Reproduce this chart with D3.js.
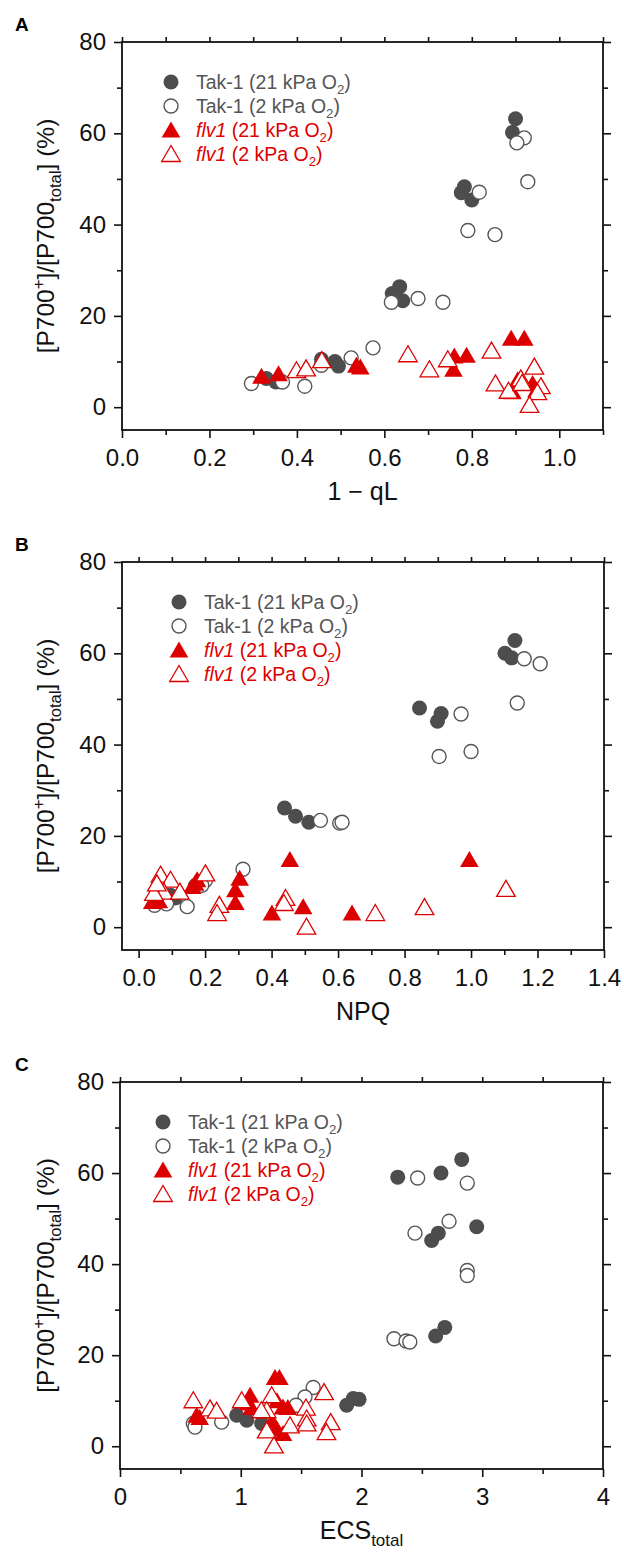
<!DOCTYPE html>
<html><head><meta charset="utf-8">
<script src="https://cdn.jsdelivr.net/npm/d3@7/dist/d3.min.js"></script>
<style>body{margin:0;background:#fff;} svg{display:block;font-family:Arial,"Liberation Sans",sans-serif;}</style>
</head><body><svg id="c" width="624" height="1554"></svg>
<script>
// ---------- DATA ----------
// Panel A: x = 1 - qL, y = [P700+]/[P700total] (%)
const tak21_A = [[0.900,63.2],[0.893,60.2],[0.783,48.3],[0.776,47.0],[0.800,45.4],[0.635,26.4],[0.618,24.9],[0.642,23.3],[0.456,10.5],[0.487,10.0],[0.495,9.0],[0.330,6.3],[0.352,5.5]];
const tak2_A  = [[0.920,59.0],[0.903,57.9],[0.928,49.4],[0.817,47.1],[0.791,38.7],[0.853,37.8],[0.616,23.0],[0.677,23.8],[0.734,23.0],[0.574,13.0],[0.524,10.8],[0.456,9.2],[0.296,5.2],[0.367,5.5],[0.418,4.6]];
const flv21_A = [[0.890,15.1],[0.920,15.1],[0.760,11.2],[0.788,11.4],[0.758,8.3],[0.536,9.2],[0.545,8.8],[0.319,6.8],[0.358,7.3],[0.893,3.4],[0.939,5.2],[0.905,6.0],[0.948,3.8]];
const flv2_A  = [[0.457,10.3],[0.399,8.1],[0.421,8.5],[0.654,11.6],[0.703,8.3],[0.745,10.5],[0.845,12.4],[0.854,5.2],[0.884,3.6],[0.912,6.3],[0.915,5.3],[0.943,8.9],[0.958,4.6],[0.950,3.3],[0.932,0.5]];
// Panel B: x = NPQ
const tak21_B = [[1.132,62.8],[1.102,60.0],[1.122,59.0],[0.845,48.0],[0.910,46.8],[0.899,45.1],[0.439,26.1],[0.472,24.3],[0.512,23.0],[0.075,5.8],[0.096,7.0],[0.110,6.4],[0.170,9.0],[0.185,9.8]];
const tak2_B  = [[1.160,58.8],[1.208,57.7],[1.139,49.1],[0.970,46.7],[0.904,37.4],[1.000,38.5],[0.547,23.4],[0.605,22.8],[0.612,23.0],[0.314,12.7],[0.201,10.2],[0.190,9.2],[0.048,4.8],[0.084,5.1],[0.146,4.5]];
const flv21_B = [[0.455,14.8],[0.995,14.8],[0.304,10.7],[0.291,8.2],[0.291,5.4],[0.401,3.1],[0.495,4.5],[0.642,3.1],[0.161,8.9],[0.176,10.4],[0.170,9.6],[0.041,5.6],[0.061,5.8]];
const flv2_B  = [[1.105,8.4],[0.860,4.4],[0.712,3.1],[0.505,0.1],[0.442,6.4],[0.437,5.3],[0.243,4.9],[0.236,3.1],[0.201,11.8],[0.066,11.5],[0.096,10.4],[0.076,7.8],[0.124,7.8],[0.046,7.5],[0.055,9.6]];
// Panel C: x = ECS_total
const tak21_C = [[2.830,63.0],[2.658,60.0],[2.300,59.1],[2.954,48.2],[2.636,46.8],[2.581,45.2],[2.690,26.1],[2.614,24.2],[1.932,10.5],[1.980,10.3],[1.877,9.0],[0.966,6.8],[1.050,5.7],[1.173,5.0]];
const tak2_C  = [[2.465,58.9],[2.876,57.8],[2.725,49.4],[2.443,46.8],[2.876,38.6],[2.876,37.5],[2.269,23.6],[2.369,23.1],[2.400,22.9],[1.600,12.9],[1.532,10.8],[1.458,9.0],[0.607,5.0],[0.621,4.2],[0.842,5.3]];
const flv21_C = [[1.284,15.1],[1.320,15.1],[1.077,11.2],[1.090,8.5],[1.350,8.6],[1.390,8.5],[1.260,5.5],[1.297,3.9],[1.350,2.8],[0.635,6.8],[0.660,6.3],[1.300,10.0],[1.060,9.5]];
const flv2_C  = [[0.607,10.1],[0.745,8.3],[0.800,7.8],[1.008,10.1],[1.256,11.2],[1.215,7.9],[1.170,7.9],[1.215,3.5],[1.408,4.6],[1.275,0.2],[1.690,11.9],[1.540,8.5],[1.546,6.1],[1.546,5.0],[1.745,5.3],[1.710,3.1]];

const yMajor = [0,20,40,60,80];
const yMinor = [10,30,50,70];
const xMajor_A = [0,0.2,0.4,0.6,0.8,1.0], xMinor_A = [0.1,0.3,0.5,0.7,0.9,1.1];
const xMajor_B = [0,0.2,0.4,0.6,0.8,1.0,1.2,1.4], xMinor_B = [0.1,0.3,0.5,0.7,0.9,1.1,1.3];
const xMajor_C = [0,1,2,3,4], xMinor_C = [0.5,1.5,2.5,3.5];

const legendLabels = [
  {parts:[{t:"Tak-1 (21 kPa O"},{t:"2",sub:1},{t:")"}], col:"#555555"},
  {parts:[{t:"Tak-1 (2 kPa O"},{t:"2",sub:1},{t:")"}], col:"#555555"},
  {parts:[{t:"flv1",it:1},{t:" (21 kPa O"},{t:"2",sub:1},{t:")"}], col:"#dd0000"},
  {parts:[{t:"flv1",it:1},{t:" (2 kPa O"},{t:"2",sub:1},{t:")"}], col:"#dd0000"}
];

// ---------- DRAW ----------
const svg = d3.select("#c");
const RED = "#dd0000", GRAY = "#4d4d4d", OGRAY = "#555555";

function rich(sel, parts, fs) {
  let shift = 0;
  parts.forEach(p => {
    const target = p.sub ? fs*0.28 : (p.sup ? -fs*0.42 : 0);
    sel.append("tspan")
      .attr("dy", (target - shift).toFixed(2))
      .attr("font-size", (p.sub || p.sup) ? fs*0.68 : fs)
      .attr("font-style", p.it ? "italic" : null)
      .text(p.t);
    shift = target;
  });
}
function triPath(cx, cy) {
  return `M${cx},${cy-8.5}L${cx+9.3},${cy+7.5}L${cx-9.3},${cy+7.5}Z`;
}

const panels = [
  {lab:"A", L:122, R:603, T:42, B:430, xd:[0,1.1], maj:xMajor_A, min:xMinor_A, fmt:d3.format(".1f"),
   title:[{t:"1 \u2212 qL"}], sets:[tak21_A,tak2_A,flv21_A,flv2_A], legX:171},
  {lab:"B", L:122, R:604, T:562, B:950, xd:[-0.05,1.4], maj:xMajor_B, min:xMinor_B, fmt:d3.format(".1f"),
   title:[{t:"NPQ"}], sets:[tak21_B,tak2_B,flv21_B,flv2_B], legX:179},
  {lab:"C", L:120, R:603, T:1082, B:1469, xd:[0,4], maj:xMajor_C, min:xMinor_C, fmt:d3.format("d"),
   title:[{t:"ECS"},{t:"total",sub:1}], sets:[tak21_C,tak2_C,flv21_C,flv2_C], legX:163}
];

panels.forEach(p => {
  const g = svg.append("g");
  const x = d3.scaleLinear().domain(p.xd).range([p.L, p.R]);
  const y = d3.scaleLinear().domain([-5, 80]).range([p.B, p.T]);

  const mk = (axisFn, scale, vals, size, labels, transform) => {
    const a = axisFn(scale).tickValues(vals).tickSize(size).tickSizeOuter(0);
    if (!labels) a.tickFormat("");
    const ag = g.append("g").attr("transform", transform).call(a);
    ag.select(".domain").remove();
    ag.selectAll("line").attr("stroke", "#111").attr("stroke-width", 1.6);
    return ag;
  };
  const bx = mk(d3.axisBottom, x, p.maj, 8, true, `translate(0,${p.B})`);
  bx.selectAll("text").attr("font-size", 24).attr("fill", "#111").attr("font-family", "Arial, Liberation Sans, sans-serif")
    .attr("y", 19).attr("dy", "0.71em").text(d => p.fmt(d));
  mk(d3.axisBottom, x, p.min, 5, false, `translate(0,${p.B})`);
  mk(d3.axisTop, x, p.maj.concat(p.min), 5, false, `translate(0,${p.T})`);
  const ly = mk(d3.axisLeft, y, yMajor, 8, true, `translate(${p.L},0)`);
  ly.selectAll("text").attr("font-size", 24).attr("fill", "#111").attr("font-family", "Arial, Liberation Sans, sans-serif")
    .attr("x", -16);
  mk(d3.axisLeft, y, yMinor, 5, false, `translate(${p.L},0)`);
  mk(d3.axisRight, y, yMajor, 8, false, `translate(${p.R},0)`);
  mk(d3.axisRight, y, yMinor, 5, false, `translate(${p.R},0)`);

  g.append("rect").attr("x", p.L).attr("y", p.T).attr("width", p.R - p.L).attr("height", p.B - p.T)
    .attr("fill", "none").attr("stroke", "#111").attr("stroke-width", 1.8);

  g.append("text").attr("x", 15).attr("y", p.T - 11).attr("font-size", 19).attr("font-weight", "bold").text(p.lab);

  const xt = g.append("text").attr("x", (p.L + p.R) / 2).attr("y", p.B + 70).attr("text-anchor", "middle").attr("fill", "#111");
  rich(xt, p.title, 25);
  const yt = g.append("text").attr("transform", `translate(54,${(p.T + p.B) / 2}) rotate(-90)`)
    .attr("text-anchor", "middle").attr("fill", "#111");
  rich(yt, [{t:"[P700"},{t:"+",sup:1},{t:"]/[P700"},{t:"total",sub:1},{t:"] (%)"}], 24.5);

  const [s1, s2, s3, s4] = p.sets;
  g.append("g").selectAll("circle").data(s1).join("circle")
    .attr("cx", d => x(d[0])).attr("cy", d => y(d[1])).attr("r", 7.5).attr("fill", GRAY);
  g.append("g").selectAll("circle").data(s2).join("circle")
    .attr("cx", d => x(d[0])).attr("cy", d => y(d[1])).attr("r", 7).attr("fill", "#fff")
    .attr("stroke", OGRAY).attr("stroke-width", 1.4);
  g.append("g").selectAll("path").data(s3).join("path")
    .attr("d", d => triPath(x(d[0]), y(d[1]))).attr("fill", RED);
  g.append("g").selectAll("path").data(s4).join("path")
    .attr("d", d => triPath(x(d[0]), y(d[1]))).attr("fill", "#fff").attr("stroke", RED).attr("stroke-width", 1.3);

  const rows = [p.T + 40, p.T + 64, p.T + 88, p.T + 112];
  const lg = g.append("g");
  lg.append("circle").attr("cx", p.legX).attr("cy", rows[0]).attr("r", 7.5).attr("fill", GRAY);
  lg.append("circle").attr("cx", p.legX).attr("cy", rows[1]).attr("r", 7).attr("fill", "#fff").attr("stroke", OGRAY).attr("stroke-width", 1.4);
  lg.append("path").attr("d", triPath(p.legX, rows[2])).attr("fill", RED);
  lg.append("path").attr("d", triPath(p.legX, rows[3])).attr("fill", "#fff").attr("stroke", RED).attr("stroke-width", 1.3);
  legendLabels.forEach((l, i) => {
    const t = lg.append("text").attr("x", p.legX + 25).attr("y", rows[i] + 7).attr("fill", l.col);
    rich(t, l.parts, 19.5);
  });
});
</script></body></html>
